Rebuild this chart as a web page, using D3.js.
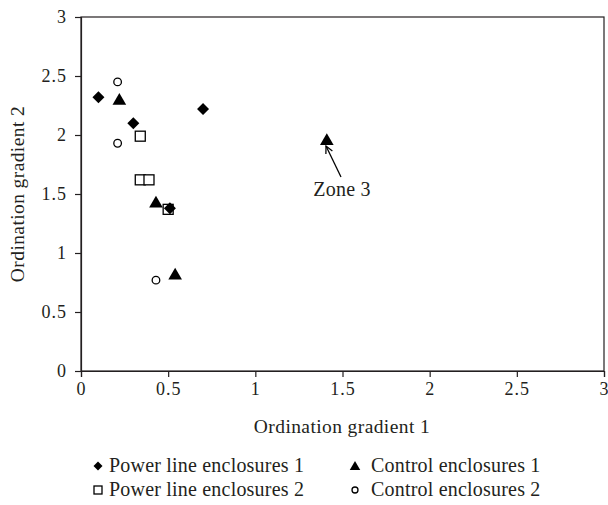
<!DOCTYPE html>
<html>
<head>
<meta charset="utf-8">
<script src="https://cdn.jsdelivr.net/npm/d3@7"></script>
<style>
  body { margin: 0; background: #fff; }
  svg text { font-family: "Liberation Serif", "DejaVu Serif", serif; fill: #231f20; }
  .tick text { font-size: 18px; letter-spacing: 1px; }
  .aTitle { font-size: 19.5px; letter-spacing: 0.4px; }
  .legText { font-size: 20px; letter-spacing: 0.2px; }
</style>
</head>
<body>
<div id="chart"></div>
<script>
var width = 608;
var height = 505;

// values
var ticks = [0, 0.5, 1, 1.5, 2, 2.5, 3];
var tickLabels = ["0", "0.5", "1", "1.5", "2", "2.5", "3"];

var power1_x = [0.10, 0.30, 0.70, 0.51];
var power1_y = [2.32, 2.10, 2.22, 1.38];

var power2_x = [0.34, 0.34, 0.39, 0.50];
var power2_y = [1.99, 1.62, 1.62, 1.37];

var control1_x = [0.22, 0.43, 0.54, 1.41];
var control1_y = [2.30, 1.43, 0.82, 1.96];

var control2_x = [0.21, 0.21, 0.43];
var control2_y = [2.45, 1.93, 0.77];

var seriesNames = ["Power line enclosures 1", "Control enclosures 1", "Power line enclosures 2", "Control enclosures 2"];

var svg = d3.select("#chart").append("svg").attr("width", width).attr("height", height);

var x_scale = d3.scaleLinear().domain([0, 3]).range([81, 604]);
var y_scale = d3.scaleLinear().domain([0, 3]).range([371, 17]);

// frame
svg.append("rect")
  .attr("x", x_scale(0)).attr("y", y_scale(3))
  .attr("width", x_scale(3) - x_scale(0)).attr("height", y_scale(0) - y_scale(3))
  .attr("fill", "none").attr("stroke", "#231f20").attr("stroke-width", 1.2);

var x_axis = d3.axisBottom(x_scale).tickValues(ticks).tickFormat(function(d, i) { return tickLabels[i]; }).tickSize(6).tickPadding(5);
var y_axis = d3.axisLeft(y_scale).tickValues(ticks).tickFormat(function(d, i) { return tickLabels[i]; }).tickSize(6).tickPadding(8);

svg.append("g").attr("transform", "translate(0," + y_scale(0) + ")").call(x_axis);
svg.append("g").attr("transform", "translate(" + x_scale(0) + ",0)").call(y_axis);
svg.selectAll(".domain").attr("stroke", "#231f20").attr("stroke-width", 1.2);
svg.selectAll(".tick line").attr("stroke", "#231f20").attr("stroke-width", 1.2);
svg.selectAll(".tick text").attr("font-size", null).attr("font-family", null);

svg.append("text").attr("class", "aTitle")
  .attr("x", 342).attr("y", 433)
  .attr("text-anchor", "middle").text("Ordination gradient 1");

svg.append("text").attr("class", "aTitle")
  .attr("transform", "translate(24," + (y_scale(0) + y_scale(3)) / 2 + ") rotate(-90)")
  .attr("text-anchor", "middle").text("Ordination gradient 2");

var dark = "#000";

function drawMarker(g, type, cx, cy, s) {
  if (type === "diamond") {
    g.append("path").attr("d", "M" + cx + "," + (cy - s) + "L" + (cx + s) + "," + cy + "L" + cx + "," + (cy + s) + "L" + (cx - s) + "," + cy + "Z").attr("fill", dark);
  } else if (type === "triangle") {
    g.append("path").attr("d", "M" + cx + "," + (cy - s) + "L" + (cx + s * 1.05) + "," + (cy + s * 0.8) + "L" + (cx - s * 1.05) + "," + (cy + s * 0.8) + "Z").attr("fill", dark);
  } else if (type === "square") {
    g.append("rect").attr("x", cx - s).attr("y", cy - s).attr("width", 2 * s).attr("height", 2 * s)
      .attr("fill", "#fff").attr("stroke", dark).attr("stroke-width", 1.3);
  } else {
    g.append("circle").attr("cx", cx).attr("cy", cy).attr("r", s)
      .attr("fill", "#fff").attr("stroke", dark).attr("stroke-width", 1.3);
  }
}

var pts = svg.append("g");
power2_x.forEach(function(v, i) { drawMarker(pts, "square", x_scale(v), y_scale(power2_y[i]), 5); });
control2_x.forEach(function(v, i) { drawMarker(pts, "circle", x_scale(v), y_scale(control2_y[i]), 3.8); });
power1_x.forEach(function(v, i) { drawMarker(pts, "diamond", x_scale(v), y_scale(power1_y[i]), 6); });
control1_x.forEach(function(v, i) { drawMarker(pts, "triangle", x_scale(v), y_scale(control1_y[i]), 6.5); });

// annotation
svg.append("defs").append("marker").attr("id", "arr")
  .attr("viewBox", "0 0 10 10").attr("refX", 9).attr("refY", 5)
  .attr("markerWidth", 9).attr("markerHeight", 9).attr("markerUnits", "userSpaceOnUse").attr("orient", "auto")
  .append("path").attr("d", "M1,1L9,5L1,9").attr("fill", "none").attr("stroke", dark).attr("stroke-width", 1.4);

svg.append("line")
  .attr("x1", 341).attr("y1", 177).attr("x2", 326).attr("y2", 146)
  .attr("stroke", dark).attr("stroke-width", 1.3).attr("marker-end", "url(#arr)");

svg.append("text").attr("class", "legText").attr("x", 342).attr("y", 196)
  .attr("text-anchor", "middle").text("Zone 3");

// legend
var legTypes = ["diamond", "triangle", "square", "circle"];
var legX = [98, 355];
var legTextX = [109, 371];
var legY = [466, 490];
var leg = svg.append("g");
seriesNames.forEach(function(name, i) {
  var ly = legY[Math.floor(i / 2)];
  var sz = { diamond: 4.5, triangle: 5, square: 4, circle: 3 }[legTypes[i]];
  drawMarker(leg, legTypes[i], legX[i % 2], ly, sz);
  leg.append("text").attr("class", "legText").attr("x", legTextX[i % 2]).attr("y", ly + 6).text(name);
});
</script>
</body>
</html>
